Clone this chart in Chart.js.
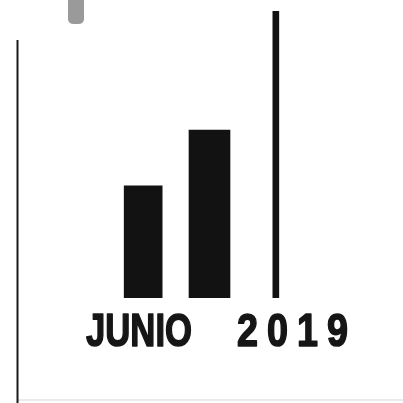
<!DOCTYPE html>
<html>
<head>
<meta charset="utf-8">
<script src="https://cdn.jsdelivr.net/npm/chart.js@4/dist/chart.umd.min.js"></script>
<style>
  html, body { margin: 0; padding: 0; background: #fff; }
  #wrap { width: 403px; height: 403px; position: relative; }
</style>
</head>
<body>
<div id="wrap"><canvas id="c" width="403" height="403"></canvas></div>
<script>
// ---- data ----
const categories = ["a", "b", "c"];
const barA = [39.1, null, null];
const barB = [null, 58.5, null];
const barC = [null, null, 100];
const yMax = 100;
const titleWord = "JUNIO";
const titleYear = "2019";

const decor = {
  id: 'decor',
  afterDraw(chart) {
    const ctx = chart.ctx;
    ctx.save();
    // left thin rule
    ctx.fillStyle = '#1a1a1a';
    ctx.fillRect(16.5, 40, 2, 363);
    // faint bottom line
    ctx.fillStyle = 'rgba(0,0,0,0.08)';
    ctx.fillRect(18, 399, 385, 2);
    // grey mark at top
    ctx.fillStyle = '#9a9a9a';
    ctx.beginPath();
    ctx.moveTo(68, 0);
    ctx.lineTo(84, 0);
    ctx.lineTo(84, 19);
    ctx.quadraticCurveTo(84, 24, 78, 24);
    ctx.lineTo(74, 24);
    ctx.quadraticCurveTo(68, 24, 68, 19);
    ctx.closePath();
    ctx.fill();

    // title text
    ctx.fillStyle = '#161616';
    ctx.strokeStyle = '#161616';
    ctx.lineJoin = 'round';
    ctx.font = 'bold 46px "Liberation Sans", Arial, sans-serif';
    ctx.textBaseline = 'alphabetic';
    ctx.textAlign = 'left';
    const w1 = ctx.measureText(titleWord).width;
    const sx1 = 106 / w1;
    ctx.save();
    ctx.translate(86, 346);
    ctx.scale(sx1, 1);
    ctx.lineWidth = 1.6;
    ctx.fillText(titleWord, 0, 0);
    ctx.strokeText(titleWord, 0, 0);
    ctx.restore();

    const chars = titleYear.split('');
    const pitch = 30;
    chars.forEach((ch, i) => {
      ctx.save();
      ctx.translate(237 + i * pitch, 346);
      ctx.scale(0.82, 1);
      ctx.lineWidth = 1.6;
      ctx.fillText(ch, 0, 0);
      ctx.strokeText(ch, 0, 0);
      ctx.restore();
    });
    ctx.restore();
  }
};

new Chart(document.getElementById('c'), {
  type: 'bar',
  data: {
    labels: categories,
    datasets: [
      { data: barA, backgroundColor: '#121212', barThickness: 38 },
      { data: barB, backgroundColor: '#121212', barThickness: 41 },
      { data: barC, backgroundColor: '#121212', barThickness: 6 }
    ]
  },
  options: {
    responsive: false,
    animation: false,
    events: [],
    layout: { padding: { left: 110, right: 94, top: 11, bottom: 105 } },
    datasets: { bar: { grouped: false } },
    plugins: { legend: { display: false }, tooltip: { enabled: false } },
    scales: {
      x: { display: false, offset: true },
      y: { display: false, min: 0, max: yMax }
    }
  },
  plugins: [decor]
});
</script>
</body>
</html>
